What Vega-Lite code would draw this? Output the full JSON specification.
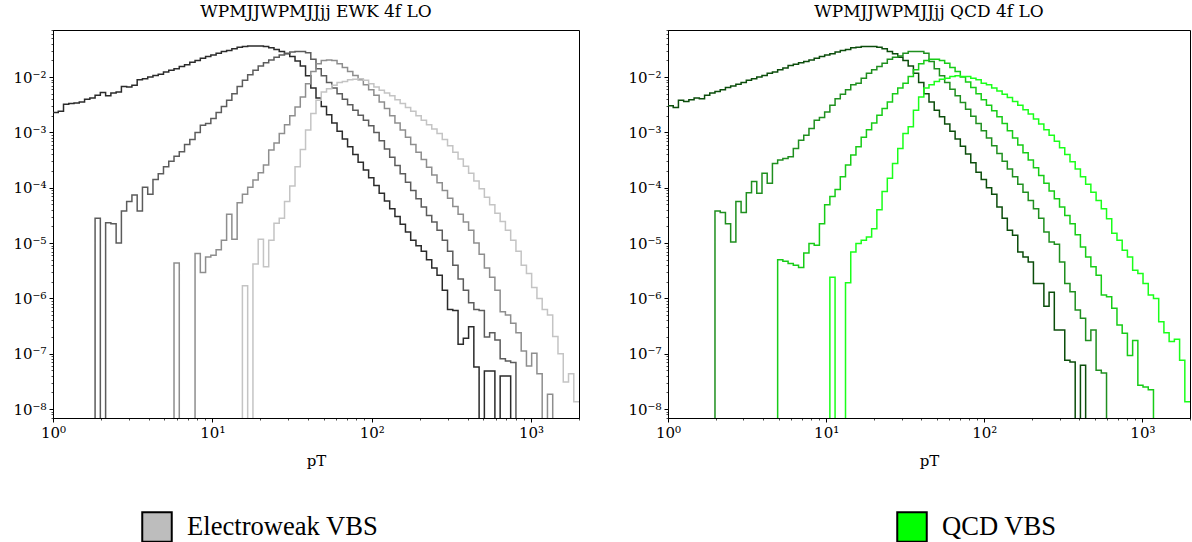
{
"$schema": "https://vega.github.io/schema/vega-lite/v6.json",
"background": "white",
"padding": {"left": 12, "top": 2, "right": 0, "bottom": 0},
"autosize": {"type": "pad"},
"config": {
  "view": {"stroke": "#000", "strokeWidth": 1},
  "axis": {"grid": false, "domainColor": "#000", "tickColor": "#000", "labelColor": "#000", "labelFont": "DejaVu Serif", "labelFontSize": 15, "titleFont": "DejaVu Serif", "titleFontSize": 15, "titleFontWeight": "normal", "titleColor": "#000", "labelFlush": false, "labelOverlap": false, "labelPadding": 3, "labelBound": false},
  "title": {"font": "DejaVu Serif", "fontSize": 17, "fontWeight": "normal", "color": "#000", "offset": 2}
},
"datasets": {"h": [
{"x":1,"e1":2.29e-3,"e2":1e-12,"e3":1e-12,"e4":1e-12,"q1":3.02e-3,"q2":1e-12,"q3":1e-12,"q4":1e-12},
{"x":1.079,"e1":2.40e-3,"e2":1e-12,"e3":1e-12,"e4":1e-12,"q1":2.82e-3,"q2":1e-12,"q3":1e-12,"q4":1e-12},
{"x":1.164,"e1":3.24e-3,"e2":1e-12,"e3":1e-12,"e4":1e-12,"q1":3.80e-3,"q2":1e-12,"q3":1e-12,"q4":1e-12},
{"x":1.256,"e1":3.31e-3,"e2":1e-12,"e3":1e-12,"e4":1e-12,"q1":3.63e-3,"q2":1e-12,"q3":1e-12,"q4":1e-12},
{"x":1.355,"e1":3.39e-3,"e2":1e-12,"e3":1e-12,"e4":1e-12,"q1":3.89e-3,"q2":1e-12,"q3":1e-12,"q4":1e-12},
{"x":1.462,"e1":3.55e-3,"e2":1e-12,"e3":1e-12,"e4":1e-12,"q1":4.17e-3,"q2":1e-12,"q3":1e-12,"q4":1e-12},
{"x":1.578,"e1":3.98e-3,"e2":1e-12,"e3":1e-12,"e4":1e-12,"q1":4.07e-3,"q2":1e-12,"q3":1e-12,"q4":1e-12},
{"x":1.703,"e1":4.17e-3,"e2":1e-12,"e3":1e-12,"e4":1e-12,"q1":4.68e-3,"q2":1e-12,"q3":1e-12,"q4":1e-12},
{"x":1.837,"e1":4.68e-3,"e2":2.82e-5,"e3":1e-12,"e4":1e-12,"q1":5.13e-3,"q2":1e-12,"q3":1e-12,"q4":1e-12},
{"x":1.982,"e1":5.25e-3,"e2":1e-12,"e3":1e-12,"e4":1e-12,"q1":5.50e-3,"q2":3.80e-5,"q3":1e-12,"q4":1e-12},
{"x":2.139,"e1":4.57e-3,"e2":2.34e-5,"e3":1e-12,"e4":1e-12,"q1":5.89e-3,"q2":3.55e-5,"q3":1e-12,"q4":1e-12},
{"x":2.308,"e1":5.13e-3,"e2":2.24e-5,"e3":1e-12,"e4":1e-12,"q1":6.46e-3,"q2":2.24e-5,"q3":1e-12,"q4":1e-12},
{"x":2.490,"e1":5.37e-3,"e2":1.00e-5,"e3":1e-12,"e4":1e-12,"q1":6.92e-3,"q2":1.05e-5,"q3":1e-12,"q4":1e-12},
{"x":2.687,"e1":6.76e-3,"e2":3.80e-5,"e3":1e-12,"e4":1e-12,"q1":7.41e-3,"q2":5.62e-5,"q3":1e-12,"q4":1e-12},
{"x":2.899,"e1":6.61e-3,"e2":5.62e-5,"e3":1e-12,"e4":1e-12,"q1":7.94e-3,"q2":3.55e-5,"q3":1e-12,"q4":1e-12},
{"x":3.128,"e1":7.08e-3,"e2":7.41e-5,"e3":1e-12,"e4":1e-12,"q1":8.71e-3,"q2":8.13e-5,"q3":1e-12,"q4":1e-12},
{"x":3.375,"e1":8.91e-3,"e2":3.80e-5,"e3":1e-12,"e4":1e-12,"q1":9.33e-3,"q2":1.29e-4,"q3":1e-12,"q4":1e-12},
{"x":3.642,"e1":9.33e-3,"e2":1.02e-4,"e3":1e-12,"e4":1e-12,"q1":1.00e-2,"q2":7.94e-5,"q3":1e-12,"q4":1e-12},
{"x":3.930,"e1":1.00e-2,"e2":7.59e-5,"e3":1e-12,"e4":1e-12,"q1":1.07e-2,"q2":1.82e-4,"q3":1e-12,"q4":1e-12},
{"x":4.240,"e1":1.07e-2,"e2":1.41e-4,"e3":1e-12,"e4":1e-12,"q1":1.17e-2,"q2":1.20e-4,"q3":1e-12,"q4":1e-12},
{"x":4.575,"e1":1.12e-2,"e2":1.78e-4,"e3":1e-12,"e4":1e-12,"q1":1.23e-2,"q2":2.75e-4,"q3":1e-12,"q4":1e-12},
{"x":4.936,"e1":1.23e-2,"e2":2.40e-4,"e3":1e-12,"e4":1e-12,"q1":1.35e-2,"q2":3.16e-4,"q3":5.01e-6,"q4":1e-12},
{"x":5.326,"e1":1.32e-2,"e2":3.02e-4,"e3":1e-12,"e4":1e-12,"q1":1.45e-2,"q2":3.39e-4,"q3":4.68e-6,"q4":1e-12},
{"x":5.747,"e1":1.41e-2,"e2":3.72e-4,"e3":4.37e-6,"e4":1e-12,"q1":1.62e-2,"q2":3.63e-4,"q3":4.27e-6,"q4":1e-12},
{"x":6.201,"e1":1.55e-2,"e2":4.47e-4,"e3":1e-12,"e4":1e-12,"q1":1.70e-2,"q2":5.13e-4,"q3":3.98e-6,"q4":1e-12},
{"x":6.691,"e1":1.66e-2,"e2":6.03e-4,"e3":1e-12,"e4":1e-12,"q1":1.82e-2,"q2":7.24e-4,"q3":3.63e-6,"q4":1e-12},
{"x":7.219,"e1":1.86e-2,"e2":7.41e-4,"e3":1e-12,"e4":1e-12,"q1":1.91e-2,"q2":8.91e-4,"q3":6.61e-6,"q4":1e-12},
{"x":7.789,"e1":2.00e-2,"e2":1.00e-3,"e3":6.46e-6,"e4":1e-12,"q1":2.04e-2,"q2":1.17e-3,"q3":9.77e-6,"q4":1e-12},
{"x":8.405,"e1":2.19e-2,"e2":1.35e-3,"e3":2.95e-6,"e4":1e-12,"q1":2.19e-2,"q2":1.66e-3,"q3":9.12e-6,"q4":1e-12},
{"x":9.069,"e1":2.34e-2,"e2":1.45e-3,"e3":5.62e-6,"e4":1e-12,"q1":2.34e-2,"q2":1.86e-3,"q3":2.24e-5,"q4":1e-12},
{"x":9.785,"e1":2.51e-2,"e2":1.78e-3,"e3":6.03e-6,"e4":1e-12,"q1":2.51e-2,"q2":2.34e-3,"q3":4.90e-5,"q4":1e-12},
{"x":10.56,"e1":2.69e-2,"e2":2.29e-3,"e3":7.59e-6,"e4":1e-12,"q1":2.63e-2,"q2":3.09e-3,"q3":6.92e-5,"q4":2.40e-6},
{"x":11.39,"e1":2.88e-2,"e2":2.95e-3,"e3":1.12e-5,"e4":1e-12,"q1":2.82e-2,"q2":4.07e-3,"q3":9.33e-5,"q4":1e-12},
{"x":12.29,"e1":3.02e-2,"e2":3.80e-3,"e3":3.31e-5,"e4":1e-12,"q1":3.02e-2,"q2":4.90e-3,"q3":1.58e-4,"q4":1e-12},
{"x":13.26,"e1":3.24e-2,"e2":5.01e-3,"e3":1.17e-5,"e4":1e-12,"q1":3.16e-2,"q2":5.89e-3,"q3":2.57e-4,"q4":1.91e-6},
{"x":14.31,"e1":3.47e-2,"e2":6.76e-3,"e3":5.37e-5,"e4":1e-12,"q1":3.39e-2,"q2":7.24e-3,"q3":3.89e-4,"q4":6.92e-6},
{"x":15.44,"e1":3.55e-2,"e2":8.71e-3,"e3":7.59e-5,"e4":1.70e-6,"q1":3.47e-2,"q2":7.76e-3,"q3":5.50e-4,"q4":9.77e-6},
{"x":16.66,"e1":3.63e-2,"e2":1.10e-2,"e3":1.02e-4,"e4":1e-12,"q1":3.55e-2,"q2":9.55e-3,"q3":8.13e-4,"q4":1.12e-5},
{"x":17.98,"e1":3.63e-2,"e2":1.32e-2,"e3":1.38e-4,"e4":4.17e-6,"q1":3.55e-2,"q2":1.17e-2,"q3":1.12e-3,"q4":1.29e-5},
{"x":19.40,"e1":3.63e-2,"e2":1.58e-2,"e3":1.86e-4,"e4":1.17e-5,"q1":3.55e-2,"q2":1.35e-2,"q3":1.48e-3,"q4":1.82e-5},
{"x":20.93,"e1":3.55e-2,"e2":1.82e-2,"e3":2.57e-4,"e4":3.72e-6,"q1":3.47e-2,"q2":1.55e-2,"q3":2.04e-3,"q4":3.98e-5},
{"x":22.58,"e1":3.39e-2,"e2":2.04e-2,"e3":4.79e-4,"e4":1.12e-5,"q1":3.24e-2,"q2":1.78e-2,"q3":2.69e-3,"q4":8.51e-5},
{"x":24.37,"e1":3.16e-2,"e2":2.29e-2,"e3":6.46e-4,"e4":2.29e-5,"q1":2.88e-2,"q2":2.09e-2,"q3":3.55e-3,"q4":1.48e-4},
{"x":26.29,"e1":2.88e-2,"e2":2.51e-2,"e3":9.55e-4,"e4":2.82e-5,"q1":2.63e-2,"q2":2.29e-2,"q3":5.01e-3,"q4":2.75e-4},
{"x":28.37,"e1":2.63e-2,"e2":2.69e-2,"e3":1.38e-3,"e4":5.62e-5,"q1":2.29e-2,"q2":2.40e-2,"q3":6.31e-3,"q4":5.13e-4},
{"x":30.61,"e1":2.34e-2,"e2":2.82e-2,"e3":2.00e-3,"e4":1.07e-4,"q1":2.00e-2,"q2":2.69e-2,"q3":7.76e-3,"q4":9.55e-4},
{"x":33.03,"e1":1.95e-2,"e2":2.88e-2,"e3":2.88e-3,"e4":2.40e-4,"q1":1.58e-2,"q2":2.88e-2,"q3":1.02e-2,"q4":1.26e-3},
{"x":35.64,"e1":1.58e-2,"e2":2.88e-2,"e3":4.37e-3,"e4":4.90e-4,"q1":1.17e-2,"q2":2.88e-2,"q3":1.35e-2,"q4":2.51e-3},
{"x":38.45,"e1":1.05e-2,"e2":2.75e-2,"e3":7.59e-3,"e4":1.10e-3,"q1":7.94e-3,"q2":2.88e-2,"q3":1.74e-2,"q4":4.37e-3},
{"x":41.49,"e1":6.31e-3,"e2":2.09e-2,"e3":1.26e-2,"e4":2.19e-3,"q1":5.01e-3,"q2":2.69e-2,"q3":2.00e-2,"q4":6.31e-3},
{"x":44.72,"e1":4.17e-3,"e2":1.41e-2,"e3":1.74e-2,"e4":3.80e-3,"q1":3.55e-3,"q2":1.91e-2,"q3":2.09e-2,"q4":7.24e-3},
{"x":48.25,"e1":2.95e-3,"e2":1.05e-2,"e3":2.00e-2,"e4":5.37e-3,"q1":2.51e-3,"q2":1.41e-2,"q3":2.09e-2,"q4":8.32e-3},
{"x":52.07,"e1":2.09e-3,"e2":7.94e-3,"e3":2.04e-2,"e4":6.17e-3,"q1":1.91e-3,"q2":1.05e-2,"q3":2.00e-2,"q4":9.12e-3},
{"x":56.18,"e1":1.48e-3,"e2":6.31e-3,"e3":2.00e-2,"e4":7.08e-3,"q1":1.41e-3,"q2":7.94e-3,"q3":1.78e-2,"q4":9.55e-3},
{"x":60.62,"e1":1.05e-3,"e2":5.01e-3,"e3":1.74e-2,"e4":7.94e-3,"q1":1.05e-3,"q2":6.03e-3,"q3":1.48e-2,"q4":1.02e-2},
{"x":65.41,"e1":7.59e-4,"e2":3.98e-3,"e3":1.48e-2,"e4":8.32e-3,"q1":7.59e-4,"q2":4.57e-3,"q3":1.26e-2,"q4":1.05e-2},
{"x":70.57,"e1":5.50e-4,"e2":3.16e-3,"e3":1.26e-2,"e4":8.91e-3,"q1":5.62e-4,"q2":3.47e-3,"q3":1.00e-2,"q4":1.02e-2},
{"x":76.15,"e1":3.98e-4,"e2":2.51e-3,"e3":1.07e-2,"e4":9.12e-3,"q1":4.07e-4,"q2":2.63e-3,"q3":8.13e-3,"q4":1.02e-2},
{"x":82.16,"e1":2.88e-4,"e2":2.04e-3,"e3":8.91e-3,"e4":9.33e-3,"q1":2.82e-4,"q2":1.95e-3,"q3":6.46e-3,"q4":9.55e-3},
{"x":88.65,"e1":2.09e-4,"e2":1.66e-3,"e3":7.24e-3,"e4":8.71e-3,"q1":1.91e-4,"q2":1.45e-3,"q3":5.01e-3,"q4":8.91e-3},
{"x":95.66,"e1":1.51e-4,"e2":1.32e-3,"e3":5.89e-3,"e4":7.59e-3,"q1":1.41e-4,"q2":1.07e-3,"q3":3.89e-3,"q4":7.76e-3},
{"x":103.2,"e1":1.10e-4,"e2":1.00e-3,"e3":4.68e-3,"e4":6.61e-3,"q1":1.00e-4,"q2":7.94e-4,"q3":3.09e-3,"q4":7.24e-3},
{"x":111.4,"e1":7.94e-5,"e2":7.08e-4,"e3":3.55e-3,"e4":5.75e-3,"q1":7.59e-5,"q2":5.75e-4,"q3":2.45e-3,"q4":6.31e-3},
{"x":120.2,"e1":5.75e-5,"e2":5.01e-4,"e3":2.69e-3,"e4":5.13e-3,"q1":4.47e-5,"q2":4.17e-4,"q3":1.91e-3,"q4":5.62e-3},
{"x":129.7,"e1":4.17e-5,"e2":3.55e-4,"e3":2.00e-3,"e4":4.57e-3,"q1":2.82e-5,"q2":3.02e-4,"q3":1.45e-3,"q4":4.90e-3},
{"x":139.9,"e1":3.02e-5,"e2":2.51e-4,"e3":1.48e-3,"e4":3.89e-3,"q1":1.70e-5,"q2":2.19e-4,"q3":1.07e-3,"q4":4.27e-3},
{"x":150.9,"e1":2.19e-5,"e2":1.78e-4,"e3":1.10e-3,"e4":3.31e-3,"q1":1.38e-5,"q2":1.58e-4,"q3":7.94e-4,"q4":3.63e-3},
{"x":162.9,"e1":1.58e-5,"e2":1.26e-4,"e3":8.13e-4,"e4":2.82e-3,"q1":6.92e-6,"q2":1.15e-4,"q3":5.89e-4,"q4":3.09e-3},
{"x":175.7,"e1":1.12e-5,"e2":8.91e-5,"e3":6.03e-4,"e4":2.40e-3,"q1":5.62e-6,"q2":8.32e-5,"q3":4.27e-4,"q4":2.57e-3},
{"x":189.6,"e1":8.91e-6,"e2":6.31e-5,"e3":4.37e-4,"e4":2.00e-3,"q1":4.57e-6,"q2":5.89e-5,"q3":3.16e-4,"q4":2.14e-3},
{"x":204.6,"e1":7.08e-6,"e2":4.47e-5,"e3":3.24e-4,"e4":1.66e-3,"q1":1.86e-6,"q2":4.17e-5,"q3":2.29e-4,"q4":1.74e-3},
{"x":220.8,"e1":5.01e-6,"e2":3.16e-5,"e3":2.34e-4,"e4":1.38e-3,"q1":1.86e-6,"q2":2.82e-5,"q3":1.66e-4,"q4":1.41e-3},
{"x":238.2,"e1":3.55e-6,"e2":2.40e-5,"e3":1.70e-4,"e4":1.15e-3,"q1":7.24e-7,"q2":1.58e-5,"q3":1.20e-4,"q4":1.12e-3},
{"x":257.0,"e1":2.63e-6,"e2":1.70e-5,"e3":1.23e-4,"e4":9.55e-4,"q1":1.29e-6,"q2":1.05e-5,"q3":8.71e-5,"q4":8.91e-4},
{"x":277.3,"e1":1.41e-6,"e2":1.12e-5,"e3":8.91e-5,"e4":7.41e-4,"q1":2.69e-7,"q2":9.55e-6,"q3":6.31e-5,"q4":6.92e-4},
{"x":299.2,"e1":6.31e-7,"e2":7.08e-6,"e3":6.46e-5,"e4":5.75e-4,"q1":2.69e-7,"q2":4.57e-6,"q3":4.47e-5,"q4":5.25e-4},
{"x":322.9,"e1":6.03e-7,"e2":3.98e-6,"e3":4.57e-5,"e4":4.37e-4,"q1":7.59e-8,"q2":1.86e-6,"q3":3.16e-5,"q4":3.98e-4},
{"x":348.4,"e1":1.48e-7,"e2":2.24e-6,"e3":3.31e-5,"e4":3.31e-4,"q1":7.08e-8,"q2":1.32e-6,"q3":2.24e-5,"q4":2.95e-4},
{"x":375.9,"e1":1.91e-7,"e2":1.41e-6,"e3":2.40e-5,"e4":2.45e-4,"q1":1e-12,"q2":6.17e-7,"q3":1.41e-5,"q4":2.19e-4},
{"x":405.6,"e1":3.09e-7,"e2":8.32e-7,"e3":1.70e-5,"e4":1.82e-4,"q1":6.17e-8,"q2":4.37e-7,"q3":8.51e-6,"q4":1.58e-4},
{"x":437.6,"e1":5.75e-8,"e2":6.31e-7,"e3":1.00e-5,"e4":1.32e-4,"q1":1e-12,"q2":1.74e-7,"q3":5.62e-6,"q4":1.15e-4},
{"x":472.2,"e1":1e-12,"e2":6.03e-7,"e3":6.31e-6,"e4":9.55e-5,"q1":1e-12,"q2":2.69e-7,"q3":3.72e-6,"q4":8.32e-5},
{"x":509.5,"e1":4.90e-8,"e2":2.00e-7,"e3":3.55e-6,"e4":6.76e-5,"q1":1e-12,"q2":5.01e-8,"q3":2.63e-6,"q4":5.89e-5},
{"x":549.7,"e1":4.90e-8,"e2":2.40e-7,"e3":2.40e-6,"e4":4.90e-5,"q1":1e-12,"q2":4.47e-8,"q3":1.15e-6,"q4":4.17e-5},
{"x":593.2,"e1":1e-12,"e2":1.78e-7,"e3":1.41e-6,"e4":3.47e-5,"q1":1e-12,"q2":1e-12,"q3":1.07e-6,"q4":2.75e-5},
{"x":640.0,"e1":3.98e-8,"e2":8.13e-8,"e3":5.75e-7,"e4":2.45e-5,"q1":1e-12,"q2":1e-12,"q3":6.61e-7,"q4":1.51e-5},
{"x":690.6,"e1":3.98e-8,"e2":7.41e-8,"e3":5.01e-7,"e4":1.70e-5,"q1":1e-12,"q2":1e-12,"q3":3.31e-7,"q4":1.12e-5},
{"x":745.1,"e1":1e-12,"e2":6.92e-8,"e3":3.55e-7,"e4":1.12e-5,"q1":1e-12,"q2":1e-12,"q3":2.34e-7,"q4":7.41e-6},
{"x":804.0,"e1":1e-12,"e2":1e-12,"e3":2.40e-7,"e4":7.08e-6,"q1":1e-12,"q2":1e-12,"q3":9.33e-8,"q4":5.62e-6},
{"x":867.5,"e1":1e-12,"e2":1e-12,"e3":1.12e-7,"e4":3.98e-6,"q1":1e-12,"q2":1e-12,"q3":1.74e-7,"q4":3.24e-6},
{"x":936.0,"e1":1e-12,"e2":1e-12,"e3":6.03e-8,"e4":2.82e-6,"q1":1e-12,"q2":1e-12,"q3":2.69e-8,"q4":2.82e-6},
{"x":1009,"e1":1e-12,"e2":1e-12,"e3":1.02e-7,"e4":1.58e-6,"q1":1e-12,"q2":1e-12,"q3":2.51e-8,"q4":1.86e-6},
{"x":1089,"e1":1e-12,"e2":1e-12,"e3":4.37e-8,"e4":1.00e-6,"q1":1e-12,"q2":1e-12,"q3":2.24e-8,"q4":1.15e-6},
{"x":1175,"e1":1e-12,"e2":1e-12,"e3":1e-12,"e4":6.31e-7,"q1":1e-12,"q2":1e-12,"q3":1e-12,"q4":1.00e-6},
{"x":1268,"e1":1e-12,"e2":1e-12,"e3":1.86e-8,"e4":5.01e-7,"q1":1e-12,"q2":1e-12,"q3":1e-12,"q4":3.80e-7},
{"x":1368,"e1":1e-12,"e2":1e-12,"e3":1e-12,"e4":2.04e-7,"q1":1e-12,"q2":1e-12,"q3":1e-12,"q4":2.40e-7},
{"x":1476,"e1":1e-12,"e2":1e-12,"e3":1e-12,"e4":1.00e-7,"q1":1e-12,"q2":1e-12,"q3":1e-12,"q4":1.66e-7},
{"x":1593,"e1":1e-12,"e2":1e-12,"e3":1e-12,"e4":3.09e-8,"q1":1e-12,"q2":1e-12,"q3":1e-12,"q4":1.82e-7},
{"x":1719,"e1":1e-12,"e2":1e-12,"e3":1e-12,"e4":4.37e-8,"q1":1e-12,"q2":1e-12,"q3":1e-12,"q4":7.59e-8},
{"x":1855,"e1":1e-12,"e2":1e-12,"e3":1e-12,"e4":1.35e-8,"q1":1e-12,"q2":1e-12,"q3":1e-12,"q4":1.35e-8},
{"x":2000,"e1":1e-12,"e2":1e-12,"e3":1e-12,"e4":1.35e-8,"q1":1e-12,"q2":1e-12,"q3":1e-12,"q4":1.35e-8}
]},
"data": {"name": "h"},
"spacing": 89,
"bounds": "flush",
"resolve": {"scale": {"x": "independent", "y": "independent", "stroke": "independent", "fill": "independent"}, "legend": {"fill": "independent", "stroke": "independent"}},
"hconcat": [
{
  "width": 526, "height": 388,
  "title": {"text": "WPMJJWPMJJjj EWK 4f LO"},
  "layer": [
    {
      "transform": [{"fold": ["e1","e2","e3","e4"], "as": ["series","v"]}],
      "mark": {"type": "line", "interpolate": "step-after", "strokeWidth": 1.5, "clip": true},
      "encoding": {
        "x": {"field": "x", "type": "quantitative", "scale": {"type": "log", "domain": [1, 2000], "nice": false},
          "axis": {"title": "pT", "titlePadding": 13,
            "values": [1,2,3,4,5,6,7,8,9,10,20,30,40,50,60,70,80,90,100,200,300,400,500,600,700,800,900,1000,2000],
            "labelExpr": "datum.value == 1 ? '10⁰' : datum.value == 10 ? '10¹' : datum.value == 100 ? '10²' : datum.value == 1000 ? '10³' : ''",
            "tickSize": {"condition": {"test": "indexof([1,10,100,1000], datum.value) >= 0", "value": 4}, "value": 2},
            "tickWidth": {"condition": {"test": "indexof([1,10,100,1000], datum.value) >= 0", "value": 1}, "value": 0.7}}},
        "y": {"field": "v", "type": "quantitative", "scale": {"type": "log", "domain": [6.9e-9, 0.0708], "nice": false},
          "axis": {"title": null,
            "values": [7e-9,8e-9,9e-9,1e-8,2e-8,3e-8,4e-8,5e-8,6e-8,7e-8,8e-8,9e-8,1e-7,2e-7,3e-7,4e-7,5e-7,6e-7,7e-7,8e-7,9e-7,1e-6,2e-6,3e-6,4e-6,5e-6,6e-6,7e-6,8e-6,9e-6,1e-5,2e-5,3e-5,4e-5,5e-5,6e-5,7e-5,8e-5,9e-5,1e-4,2e-4,3e-4,4e-4,5e-4,6e-4,7e-4,8e-4,9e-4,1e-3,2e-3,3e-3,4e-3,5e-3,6e-3,7e-3,8e-3,9e-3,1e-2,2e-2,3e-2,4e-2,5e-2,6e-2,7e-2],
            "labelExpr": "datum.value == 1e-8 ? '10⁻⁸' : datum.value == 1e-7 ? '10⁻⁷' : datum.value == 1e-6 ? '10⁻⁶' : datum.value == 1e-5 ? '10⁻⁵' : datum.value == 1e-4 ? '10⁻⁴' : datum.value == 1e-3 ? '10⁻³' : datum.value == 1e-2 ? '10⁻²' : ''",
            "tickSize": {"condition": {"test": "indexof([1e-8,1e-7,1e-6,1e-5,1e-4,1e-3,1e-2], datum.value) >= 0", "value": 4}, "value": 2},
            "tickWidth": {"condition": {"test": "indexof([1e-8,1e-7,1e-6,1e-5,1e-4,1e-3,1e-2], datum.value) >= 0", "value": 1}, "value": 0.7}}},
        "stroke": {"field": "series", "type": "nominal", "scale": {"domain": ["e1","e2","e3","e4"], "range": ["#2b2b2b","#5c5c5c","#8e8e8e","#c4c4c4"]}, "legend": null}
      }
    },
    {
      "data": {"values": [{"lab": "Electroweak VBS"}]},
      "mark": {"type": "point", "shape": "square", "filled": true, "opacity": 0},
      "encoding": {
        "fill": {"field": "lab", "type": "nominal", "scale": {"range": ["#bdbdbd"]},
          "legend": {"title": null, "orient": "none", "legendX": 88, "legendY": 481, "symbolType": "square", "symbolSize": 870, "symbolStrokeColor": "#000", "symbolStrokeWidth": 2, "symbolOpacity": 1, "labelFont": "Liberation Serif", "labelFontSize": 26.6, "labelColor": "#000", "labelOffset": 14, "labelLimit": 500, "padding": 0,
            "encode": {"symbols": {"update": {"stroke": {"value": "#000"}, "strokeWidth": {"value": 2}, "opacity": {"value": 1}}}}}}
      }
    }
  ]
},
{
  "width": 522, "height": 388,
  "title": {"text": "WPMJJWPMJJjj QCD 4f LO"},
  "layer": [
    {
      "transform": [{"fold": ["q1","q2","q3","q4"], "as": ["series","v"]}],
      "mark": {"type": "line", "interpolate": "step-after", "strokeWidth": 1.5, "clip": true},
      "encoding": {
        "x": {"field": "x", "type": "quantitative", "scale": {"type": "log", "domain": [1, 2000], "nice": false},
          "axis": {"title": "pT", "titlePadding": 13,
            "values": [1,2,3,4,5,6,7,8,9,10,20,30,40,50,60,70,80,90,100,200,300,400,500,600,700,800,900,1000,2000],
            "labelExpr": "datum.value == 1 ? '10⁰' : datum.value == 10 ? '10¹' : datum.value == 100 ? '10²' : datum.value == 1000 ? '10³' : ''",
            "tickSize": {"condition": {"test": "indexof([1,10,100,1000], datum.value) >= 0", "value": 4}, "value": 2},
            "tickWidth": {"condition": {"test": "indexof([1,10,100,1000], datum.value) >= 0", "value": 1}, "value": 0.7}}},
        "y": {"field": "v", "type": "quantitative", "scale": {"type": "log", "domain": [6.9e-9, 0.0708], "nice": false},
          "axis": {"title": null,
            "values": [7e-9,8e-9,9e-9,1e-8,2e-8,3e-8,4e-8,5e-8,6e-8,7e-8,8e-8,9e-8,1e-7,2e-7,3e-7,4e-7,5e-7,6e-7,7e-7,8e-7,9e-7,1e-6,2e-6,3e-6,4e-6,5e-6,6e-6,7e-6,8e-6,9e-6,1e-5,2e-5,3e-5,4e-5,5e-5,6e-5,7e-5,8e-5,9e-5,1e-4,2e-4,3e-4,4e-4,5e-4,6e-4,7e-4,8e-4,9e-4,1e-3,2e-3,3e-3,4e-3,5e-3,6e-3,7e-3,8e-3,9e-3,1e-2,2e-2,3e-2,4e-2,5e-2,6e-2,7e-2],
            "labelExpr": "datum.value == 1e-8 ? '10⁻⁸' : datum.value == 1e-7 ? '10⁻⁷' : datum.value == 1e-6 ? '10⁻⁶' : datum.value == 1e-5 ? '10⁻⁵' : datum.value == 1e-4 ? '10⁻⁴' : datum.value == 1e-3 ? '10⁻³' : datum.value == 1e-2 ? '10⁻²' : ''",
            "tickSize": {"condition": {"test": "indexof([1e-8,1e-7,1e-6,1e-5,1e-4,1e-3,1e-2], datum.value) >= 0", "value": 4}, "value": 2},
            "tickWidth": {"condition": {"test": "indexof([1e-8,1e-7,1e-6,1e-5,1e-4,1e-3,1e-2], datum.value) >= 0", "value": 1}, "value": 0.7}}},
        "stroke": {"field": "series", "type": "nominal", "scale": {"domain": ["q1","q2","q3","q4"], "range": ["#0b4d0b","#1f8f1f","#17cc17","#1aff1a"]}, "legend": null}
      }
    },
    {
      "data": {"values": [{"lab": "QCD VBS"}]},
      "mark": {"type": "point", "shape": "square", "filled": true, "opacity": 0},
      "encoding": {
        "fill": {"field": "lab", "type": "nominal", "scale": {"range": ["#00ff00"]},
          "legend": {"title": null, "orient": "none", "legendX": 228, "legendY": 481, "symbolType": "square", "symbolSize": 870, "symbolStrokeColor": "#000", "symbolStrokeWidth": 2, "symbolOpacity": 1, "labelFont": "Liberation Serif", "labelFontSize": 26.6, "labelColor": "#000", "labelOffset": 14, "labelLimit": 500, "padding": 0,
            "encode": {"symbols": {"update": {"stroke": {"value": "#000"}, "strokeWidth": {"value": 2}, "opacity": {"value": 1}}}}}}
      }
    }
  ]
}
]
}
